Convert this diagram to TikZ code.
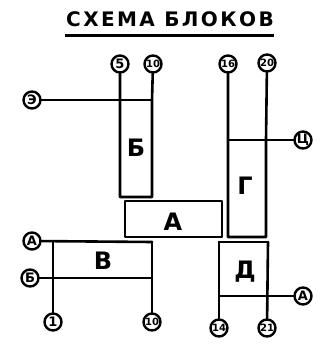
\documentclass[tikz,border=0pt]{standalone}
\usepackage{fontspec}
\setmainfont{DejaVu Sans}
\newfontfamily\handfont[LetterSpace=12]{DejaVu Sans}
\begin{document}
\begin{tikzpicture}[x=1pt,y=-1pt,
  wire/.style={line width=2.6pt, line cap=round, line join=round},
  pin/.style={circle, draw, line width=2.4pt, minimum size=17pt, inner sep=0pt,
              font=\bfseries\fontsize{13}{13}\selectfont},
  pinw/.style={pin, font=\bfseries\fontsize{10}{10}\selectfont},
  blocklbl/.style={font=\bfseries\fontsize{24}{24}\selectfont}]
\useasboundingbox (0,0) rectangle (321,348);

% title
\node[font=\handfont\bfseries\fontsize{20}{20}\selectfont] (title) at (170,19) {СХЕМА БЛОКОВ};
\draw[line width=3pt] (65,35) -- (274,35);

% pins
\node[pin]  (p5)   at (120,64) {5};
\node[pinw] (p10a) at (153,64) {10};
\node[pinw] (p16)  at (228,64) {16};
\node[pinw] (p20)  at (267,63) {20};
\node[pin]  (pE)   at (32,100)  {Э};
\node[pin]  (pC)   at (303,140) {Ц};
\node[pin]  (pA1)  at (32,241) {А};
\node[pin]  (pB)   at (30,278) {Б};
\node[pin]  (p1)   at (53,322) {1};
\node[pinw] (p10b) at (152,322) {10};
\node[pin]  (pA2)  at (303,296) {А};
\node[pinw] (p14)  at (219,328) {14};
\node[pinw] (p21)  at (267,328) {21};

% block Б
\coordinate (bTL) at (120,100); \coordinate (bTR) at (152,100);
\coordinate (bBL) at (120,197); \coordinate (bBR) at (152,197);
\draw[wire] (p5) -- (bTL) -- (bBL) -- (bBR) -- (bTR) -- (p10a);
\draw[wire] (pE) -- (bTR);
\node[blocklbl] (lB) at (136,148) {Б};

% block A
\draw[wire] (125,201) rectangle (222,237);
\node[blocklbl] (lA) at (173,222) {А};

% block Г
\coordinate (gTL) at (228,140); \coordinate (gTR) at (266,140);
\coordinate (gBL) at (228,237); \coordinate (gBR) at (266,237);
\draw[wire] (p16) -- (gTL) -- (gBL) -- (gBR) -- (gTR) -- (p20);
\draw[wire] (gTL) -- (pC);
\node[blocklbl] (lG) at (245,186) {Г};

% block В
\coordinate (vTL) at (53,242); \coordinate (vTR) at (152,242);
\coordinate (vBL) at (53,278); \coordinate (vBR) at (152,278);
\draw[wire] (pA1) -- (vTR);
\draw[wire] (pB) -- (vBR);
\draw[wire] (vTL) -- (p1);
\draw[wire] (vTR) -- (p10b);
\node[blocklbl] (lV) at (103,261) {В};

% block Д
\coordinate (dTL) at (219,242); \coordinate (dTR) at (268,242);
\coordinate (dBL) at (219,296); \coordinate (dBR) at (268,296);
\draw[wire] (dTL) -- (dTR);
\draw[wire] (dBL) -- (pA2);
\draw[wire] (dTL) -- (p14);
\draw[wire] (dTR) -- (p21);
\node[blocklbl] (lD) at (245,272) {Д};
\end{tikzpicture}
\end{document}
